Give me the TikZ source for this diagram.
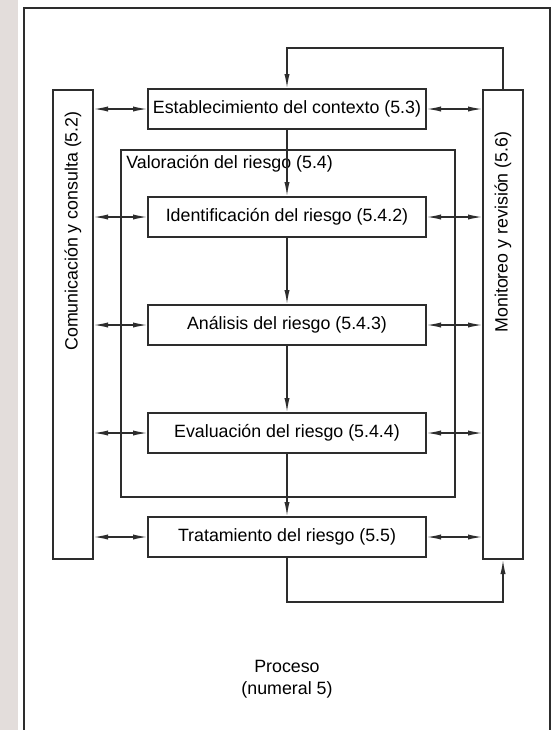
\documentclass[tikz,border=0pt]{standalone}
\usepackage{fontspec}
\setmainfont{Liberation Sans}
\usetikzlibrary{positioning}
\usetikzlibrary{arrows.meta}
\definecolor{stripgray}{RGB}{227,221,219}
\definecolor{linegray}{RGB}{45,45,45}
\tikzset{
	% process steps in the middle column
	flowbox/.style={draw=linegray, line width=1pt, rectangle, inner sep=2pt, minimum width=139pt, minimum height=20pt, font=\fontsize{8.9}{10}\selectfont},
	% tall boxes on both sides
	sidebox/.style={draw=linegray, line width=1pt, rectangle, inner sep=0pt, minimum width=20pt, minimum height=234.5pt},
	sidelabel/.style={rotate=90, inner sep=0pt, font=\fontsize{8.9}{10}\selectfont},
	valbox/.style={draw=linegray, line width=0.6pt, rectangle},
}

\begin{document}
\begin{tikzpicture}[x=0.5pt, y=-0.5pt]
	\useasboundingbox (0,0) rectangle (556,730);
	\fill[stripgray] (0,0) rectangle (18,730);
	\draw[linegray, line width=1.3pt] (24,8) rectangle (550,760);
	
	\node (est) [flowbox] at (287,109) {Establecimiento del contexto (5.3)};
	\node (ident) [flowbox, below of=est, node distance=54pt] {Identificación del riesgo (5.4.2)};
	\node (anal) [flowbox, below of=ident, node distance=54pt] {Análisis del riesgo (5.4.3)};
	\node (eval) [flowbox, below of=anal, node distance=54pt] {Evaluación del riesgo (5.4.4)};
	\node (trat) [flowbox, below of=eval, node distance=54pt, yshift=2pt] {Tratamiento del riesgo (5.5)};
	
	\node (com) [sidebox, anchor=north] at (73,89) {};
	\node (mon) [sidebox, anchor=north] at (503,89) {};
	\node (comlab) [sidelabel] at (73,231) {Comunicación y consulta (5.2)};
	\node (monlab) [sidelabel] at (503,232) {Monitoreo y revisión (5.6)};
	
	\draw[valbox] (121,150) rectangle (455,497);
	\node (val) [anchor=north west, inner sep=2pt, font=\fontsize{8.9}{10}\selectfont] at (122,151) {Valoración del riesgo (5.4)};
	
	\node (proc) [align=center, font=\fontsize{8.9}{11}\selectfont] at (287,679) {Proceso\\(numeral 5)};
	
	\begin{scope}[linegray, line width=0.6pt, ->, >={Latex[length=7pt,width=2.6pt]}]
		\draw (est) -- (ident);
		\draw (ident) -- (anal);
		\draw (anal) -- (eval);
		\draw (eval) -- (trat);
		
		\draw (mon.north) -- ++(0,-41) -| (est.north);
		\draw (trat.south) -- ++(0,44) -| (mon.south);
		
		\draw[<->] (com.east |- est) -- (est);
		\draw[<->] (com.east |- ident) -- (ident);
		\draw[<->] (com.east |- anal) -- (anal);
		\draw[<->] (com.east |- eval) -- (eval);
		\draw[<->] (com.east |- trat) -- (trat);
		
		\draw[<->] (est) -- (mon.west |- est);
		\draw[<->] (ident) -- (mon.west |- ident);
		\draw[<->] (anal) -- (mon.west |- anal);
		\draw[<->] (eval) -- (mon.west |- eval);
		\draw[<->] (trat) -- (mon.west |- trat);
	\end{scope}
	
\end{tikzpicture}
\end{document}
